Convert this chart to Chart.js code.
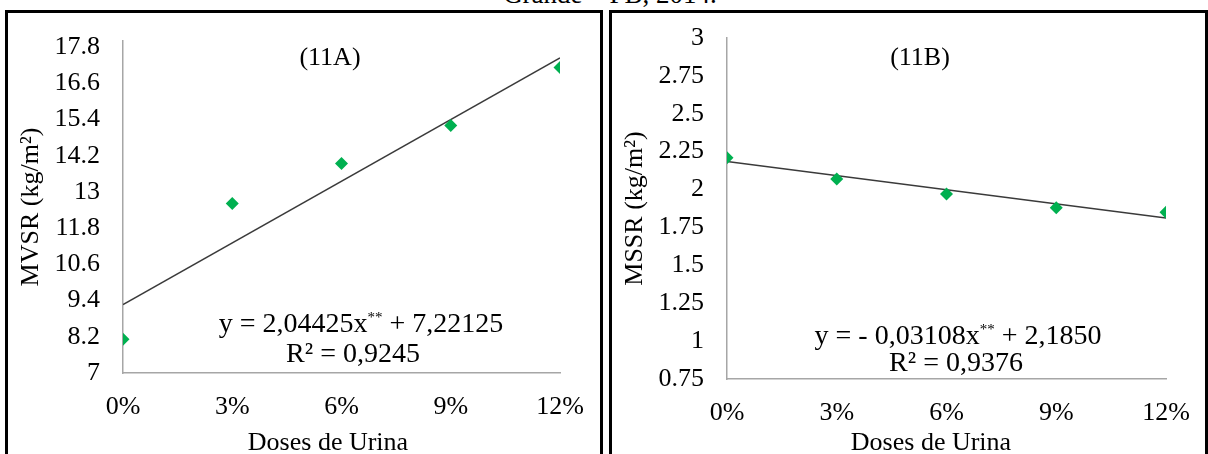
<!DOCTYPE html>
<html>
<head>
<meta charset="utf-8">
<script src="https://cdn.jsdelivr.net/npm/chart.js@4.4.1/dist/chart.umd.min.js"></script>
<style>
    html, body { margin: 0; padding: 0; background: #fff; overflow: hidden; width: 1208px; height: 454px; }
    body { position: relative; font-family: 'Liberation Serif', 'Times New Roman', serif; }
    .caption { position: absolute; left: 6px; width: 1208px; top: -21px; text-align: center; font-size: 27px; color: #000; }
    .panel { position: absolute; top: 10px; height: 470px; border: 3px solid #000; box-sizing: border-box; }
    .panel canvas { position: absolute; left: 0; top: 0; }
    .note { position: absolute; font-size: 26px; color: #000; white-space: nowrap; text-align: center; line-height: 30px; }
    .eq { font-size: 28px; width: 400px; }
    .eq sup { font-size: 15px; vertical-align: 10px; line-height: 0; }
</style>
</head>
<body>
<div class="caption">Grande – PB, 2014.</div>

<div class="panel" id="panel-a" style="left:5px; width:598px;">
    <canvas id="chart-a" width="592" height="460"></canvas>
    <div class="note" style="left:157px; top:29px; width:330px;">(11A)</div>
    <div class="note eq" style="left:153px; top:295px;">y = 2,04425x<sup>**</sup> + 7,22125</div>
    <div class="note eq" style="left:145px; top:325px;">R² = 0,9245</div>
    <div class="note" style="left:170px; top:414px; width:300px;">Doses de Urina</div>
</div>

<div class="panel" id="panel-b" style="left:609px; width:599px;">
    <canvas id="chart-b" width="593" height="460"></canvas>
    <div class="note" style="left:143px; top:29px; width:330px;">(11B)</div>
    <div class="note eq" style="left:146px; top:307px;">y = - 0,03108x<sup>**</sup> + 2,1850</div>
    <div class="note eq" style="left:144px; top:334px;">R² = 0,9376</div>
    <div class="note" style="left:169px; top:414px; width:300px;">Doses de Urina</div>
</div>

<script>
// doses de urina (%)
const doses = [0, 3, 6, 9, 12];
const doseLabels = ['0%', '3%', '6%', '9%', '12%'];

// 11A - MVSR (kg/m2)
const mvsr = [8.12, 12.62, 13.94, 15.20, 17.12];
const trendDosesA = [0, 12];
const trendA = [9.27, 17.44];
const ticksA = [7, 8.2, 9.4, 10.6, 11.8, 13, 14.2, 15.4, 16.6, 17.8];

// 11B - MSSR (kg/m2)
const mssr = [2.21, 2.07, 1.97, 1.88, 1.85];
const trendDosesB = [0, 12];
const trendB = [2.185, 1.812];
const ticksB = [0.75, 1, 1.25, 1.5, 1.75, 2, 2.25, 2.5, 2.75, 3];

const FONT = "'Liberation Serif', 'Times New Roman', serif";
const GREEN = '#00b050';
const AXIS_GRAY = '#a6a6a6';

function buildChart(canvasId, opts) {
    const ctx = document.getElementById(canvasId).getContext('2d');
    return new Chart(ctx, {
        type: 'scatter',
        data: {
            datasets: [
                {
                    label: 'dados',
                    data: doses.map((d, i) => ({ x: d, y: opts.values[i] })),
                    backgroundColor: GREEN,
                    borderColor: GREEN,
                    pointStyle: 'rectRot',
                    pointRadius: 6.5,
                    borderWidth: 0,
                    order: 1
                },
                {
                    label: 'tendência',
                    type: 'line',
                    data: opts.trendX.map((d, i) => ({ x: d, y: opts.trend[i] })),
                    borderColor: '#3a3a3a',
                    borderWidth: 1.5,
                    pointRadius: 0,
                    fill: false,
                    order: 2
                }
            ]
        },
        options: {
            responsive: false,
            animation: false,
            devicePixelRatio: 1,
            layout: { padding: { left: 0, top: opts.top, right: opts.right, bottom: 0 } },
            plugins: { legend: { display: false }, tooltip: { enabled: false } },
            scales: {
                x: {
                    type: 'linear',
                    min: 0,
                    max: 12,
                    afterBuildTicks: axis => { axis.ticks = doses.map(v => ({ value: v })); },
                    // altura fixa e sem margem extra dos rótulos
                    afterFit: axis => {
                        axis.height = opts.xHeight;
                        axis.paddingLeft = 0;
                        axis.paddingRight = 0;
                    },
                    grid: { display: false, drawTicks: false },
                    border: { display: true, color: AXIS_GRAY, width: 1.5 },
                    ticks: {
                        padding: 19,
                        color: '#000',
                        font: { family: FONT, size: 26 },
                        maxRotation: 0,
                        callback: (v) => doseLabels[doses.indexOf(v)]
                    },
                    title: { display: false }
                },
                y: {
                    min: opts.min,
                    max: opts.max,
                    afterBuildTicks: axis => { axis.ticks = opts.ticks.map(v => ({ value: v })); },
                    afterFit: axis => {
                        axis.width = 115;
                        axis.paddingTop = 0;
                        axis.paddingBottom = 0;
                    },
                    grid: { display: false, drawTicks: false },
                    border: { display: true, color: AXIS_GRAY, width: 1.5 },
                    ticks: {
                        padding: 23,
                        color: '#000',
                        font: { family: FONT, size: 26 },
                        callback: v => String(v)
                    },
                    title: {
                        display: true,
                        text: opts.yTitle,
                        color: '#000',
                        font: { family: FONT, size: 26 },
                        padding: { top: 8, bottom: 0 }
                    }
                }
            }
        }
    });
}

buildChart('chart-a', {
    values: mvsr, trendX: trendDosesA, trend: trendA,
    min: 7, max: 18, ticks: ticksA, yTitle: 'MVSR (kg/m²)',
    top: 28, right: 40, xHeight: 100
});

buildChart('chart-b', {
    values: mssr, trendX: trendDosesB, trend: trendB,
    min: 0.75, max: 3, ticks: ticksB, yTitle: 'MSSR (kg/m²)',
    top: 25, right: 39, xHeight: 94
});
</script>
</body>
</html>
